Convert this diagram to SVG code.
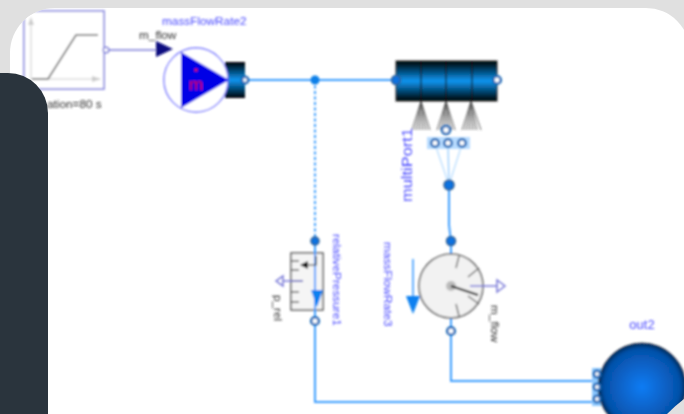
<svg xmlns="http://www.w3.org/2000/svg" width="684" height="414" viewBox="0 0 684 414">
<style>
.lbl{font-family:"Liberation Sans",Arial,sans-serif;font-size:11.8px;fill:#4a4aff}
.gry{font-family:"Liberation Sans",Arial,sans-serif;font-size:11.8px;fill:#333}
.pipe{fill:none;stroke:#3a9cff;stroke-width:2}
.fp{fill:#0a72e0;stroke:#2f5f8f;stroke-width:1.5}
.wp{fill:#fff;stroke:#1f6cb8;stroke-width:2.6}
.sig{fill:none;stroke:#7a7ad8;stroke-width:1.5}
.tuft{stroke:#555;stroke-width:.9;fill:none}
.tick{stroke:#666;stroke-width:1.4;fill:none}
</style>
<defs>
<filter id="soft" filterUnits="userSpaceOnUse" x="0" y="0" width="684" height="414"><feGaussianBlur stdDeviation="0.8"/></filter>
<linearGradient id="pipeG" x1="0" y1="0" x2="0" y2="1"><stop offset="0" stop-color="#000"/><stop offset=".5" stop-color="#0a95f0"/><stop offset="1" stop-color="#000"/></linearGradient>
<radialGradient id="ball" cx="642" cy="387" r="45" gradientUnits="userSpaceOnUse"><stop offset="0" stop-color="#0a7cf4"/><stop offset=".85" stop-color="#0650a8"/><stop offset="1" stop-color="#02234a"/></radialGradient>
<clipPath id="panel"><path d="M10 414V53A45 45 0 0 1 55 8H646A44 44 0 0 1 690 52V414Z"/></clipPath>
</defs>
<rect width="684" height="414" fill="#e0e0e0"/>
<path d="M10 414V53A45 45 0 0 1 55 8H646A44 44 0 0 1 690 52V414Z" fill="#fff"/>
<g clip-path="url(#panel)">
<g filter="url(#soft)">
<g id="connectors">
<path class="sig" d="M109 50H157"/>
<path class="pipe" d="M245 80H396"/>
<path class="pipe" stroke-dasharray="3 2.5" d="M315 80V241"/>
<path class="pipe" d="M315 241V321V402H598"/>
<path class="pipe" d="M449 185V225L451 241V331V381H598"/>
<path d="M435 144L449 185M462 144L449 185" stroke="#b5dcff" stroke-width="1.2" fill="none"/>
<path d="M448 144L449 185" stroke="#8cc8ff" stroke-width="1.2" fill="none"/>
<circle cx="315" cy="80" r="4.5" fill="#0a80e8"/>
</g>
<g id="ramp">
<rect x="24" y="11" width="80" height="78" fill="#fff" stroke="#8a8ae0" stroke-width="1.7"/>
<path d="M31 20V79H100" fill="none" stroke="#ccc" stroke-width="1"/>
<path d="M31 17L28 25H34ZM101 79L92 76V82Z" fill="#ccc"/>
<path d="M32 79H48L76 35H98" fill="none" stroke="#666" stroke-width="1.6"/>
<circle cx="106" cy="50" r="2.8" fill="#fff" stroke="#7a7ad8" stroke-width="1.4"/>
<text class="gry" x="47" y="108">ation=80 s</text>
</g>
<g id="massFlowRate2">
<text class="lbl" x="162" y="25">massFlowRate2</text>
<text class="gry" x="139" y="39">m_flow</text>
<path d="M156 41L173 49L156 57Z" fill="#0a0a80"/>
<rect x="225" y="62" width="20" height="36" fill="url(#pipeG)"/>
<circle cx="196" cy="80" r="32" fill="#fff" stroke="#7070ff" stroke-width="1.4"/>
<path d="M181 52L229 80L181 108Z" fill="#0000e6"/>
<circle cx="196" cy="70" r="1.6" fill="#e01030"/>
<text x="196" y="90" text-anchor="middle" font-family="Liberation Sans,Arial,sans-serif" font-size="17" fill="#e00838">m</text>
<circle class="wp" cx="245" cy="80" r="3.2"/>
</g>
<g id="multiPortVolume">
<path class="tuft" d="M421 101L412 130M421 101L415 130M421 101L418 130M421 101L421 130M421 101L424 130M421 101L427 130M421 101L430 130"/>
<path class="tuft" d="M446 101L437 130M446 101L440 130M446 101L443 130M446 101L446 130M446 101L449 130M446 101L452 130M446 101L455 130"/>
<path class="tuft" d="M471 101L462 130M471 101L465 130M471 101L468 130M471 101L471 130M471 101L474 130M471 101L477 130M471 101L481 130"/>
<rect x="396" y="61" width="101" height="40" fill="url(#pipeG)" stroke="#222" stroke-width="1"/>
<path d="M421 61V101M446 61V101M472 61V101" stroke="#111" stroke-width="1"/>
<circle class="fp" cx="396" cy="80" r="4.5"/>
<circle class="wp" cx="497" cy="80" r="3.8"/>
<circle class="wp" cx="446" cy="130" r="4"/>
</g>
<g id="multiPort1">
<rect x="427" y="137" width="43" height="12" fill="#b8dcff"/>
<circle class="wp" cx="435" cy="143" r="3.8"/>
<circle class="wp" cx="448" cy="143" r="3.8"/>
<circle class="wp" cx="462" cy="143" r="3.8"/>
<circle class="fp" cx="449" cy="185" r="5"/>
<text class="lbl" transform="translate(412 202) rotate(-90)" style="font-size:14px" textLength="74" lengthAdjust="spacingAndGlyphs">multiPort1</text>
</g>
<g id="relativePressure1">
<rect x="291" y="253" width="32" height="57" fill="#f5f5f5" stroke="#555" stroke-width="1.5"/>
<path class="tick" d="M291 261H299M291 270H299M291 281H303M291 292H299M291 302H299"/>
<path class="pipe" d="M315 245V317"/>
<path d="M316 256V265H307" fill="none" stroke="#333" stroke-width="1.2"/>
<path d="M300 265L308 261V269Z" fill="#111"/>
<path d="M311 290H323L317 307Z" fill="#0a80f0"/>
<path class="sig" d="M303 281H283"/>
<path class="sig" d="M283 276V286L276 281Z"/>
<circle class="fp" cx="315" cy="241" r="4"/>
<circle class="wp" cx="315" cy="321" r="3.8"/>
<text class="gry" transform="translate(274 295) rotate(90)">p_rel</text>
<text class="lbl" transform="translate(333 234) rotate(90)">relativePressure1</text>
</g>
<g id="massFlowRate3">
<path d="M413 259V297" stroke="#3a9cff" stroke-width="1.6"/>
<path d="M406 296H420L413 314Z" fill="#0a80f0"/>
<circle cx="451" cy="286" r="32" fill="#f2f2f2" stroke="#666" stroke-width="1.6"/>
<path class="tick" d="M459 256L456 268M479 268L468 277M479 304L468 296M459 316L456 304"/>
<path class="sig" d="M470 286H497"/>
<path class="sig" d="M497 280V292L505 286Z"/>
<circle cx="451" cy="286" r="5" fill="#bbb"/>
<path d="M451 286L478 295" stroke="#111" stroke-width="2"/>
<circle class="fp" cx="451" cy="241" r="4.5"/>
<circle class="wp" cx="451" cy="331" r="3.8"/>
<text class="lbl" transform="translate(384 242) rotate(90)">massFlowRate3</text>
<text class="gry" transform="translate(491 305) rotate(90)">m_flow</text>
</g>
<g id="out2">
<text class="lbl" x="642" y="329" text-anchor="middle" style="font-size:13px">out2</text>
<rect x="592" y="368" width="10" height="38" fill="#8cc8ff"/>
<circle cx="642" cy="387" r="44" fill="url(#ball)" stroke="#222" stroke-width=".8"/>
<circle class="wp" cx="597" cy="374" r="3.2"/>
<circle class="wp" cx="597" cy="387" r="3.2"/>
<circle class="wp" cx="597" cy="399" r="3.2"/>
</g>
</g>
</g>
<path id="corner" d="M684 399Q676 405 667 414H684Z" fill="#e0e0e0"/>
<path id="sidebar" d="M0 73H8A40 40 0 0 1 48 113V414H0Z" fill="#2a343d"/>
</svg>
